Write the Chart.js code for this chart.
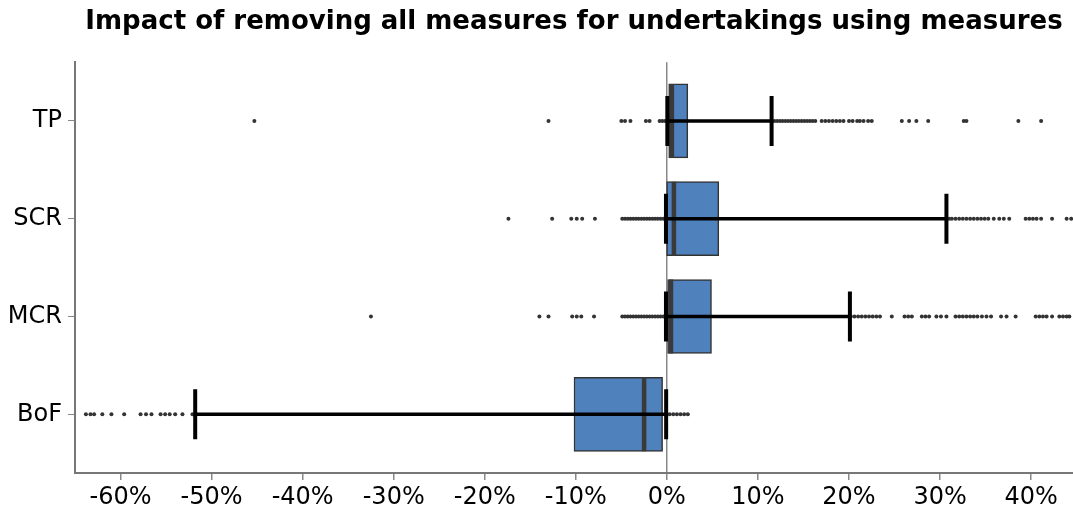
<!DOCTYPE html>
<html>
<head>
  <meta charset="utf-8" />
  <title>Impact of removing all measures</title>
  <script src="https://cdn.jsdelivr.net/npm/chart.js@4.4.1/dist/chart.umd.min.js"></script>
  <style>
    html, body { margin: 0; padding: 0; background: #fff; overflow: hidden; }
    canvas { display: block; }
  </style>
</head>
<body>
  <canvas id="boxChart" width="1073" height="509"></canvas>
  <script>
    // box plot numbers, in %
    var categories = ['TP', 'SCR', 'MCR', 'BoF'];
    var whiskerLow = [0.05, -0.1, -0.1, -51.8];
    var q1 = [0.2, -0.03, 0.0, -10.2];
    var median = [0.55, 0.77, 0.45, -2.5];
    var q3 = [2.3, 5.7, 4.9, -0.47];
    var whiskerHigh = [11.5, 30.7, 20.1, -0.08];

    var outliersTP = [-45.3, -13.0, -5.0, -4.6, -4.0, -2.3, -1.9, -0.8, -0.5, -0.2,
      11.8, 12.1, 12.4, 12.7, 13.0, 13.3, 13.6, 13.9, 14.2, 14.5, 14.8, 15.1, 15.4, 15.7, 16.0, 16.3,
      17.0, 17.4, 17.8, 18.2, 18.6, 19.0, 19.4, 20.0, 20.4, 20.9, 21.2, 21.6, 22.1, 22.5,
      25.8, 26.6, 27.4, 28.7, 32.6, 32.9, 38.6, 41.1];
    var outliersSCR = [-17.4, -12.6, -10.5, -9.9, -9.3, -7.9,
      -4.9, -4.6, -4.3, -4.0, -3.7, -3.4, -3.1, -2.8, -2.5, -2.2, -1.9, -1.6, -1.3, -1.0, -0.7, -0.4,
      31.0, 31.3, 31.7, 32.1, 32.5, 32.9, 33.3, 33.7, 34.1, 34.5, 34.9, 35.3, 35.9,
      36.5, 37.0, 37.6, 39.4, 39.8, 40.2, 40.6, 41.1, 42.3, 43.9, 44.4];
    var outliersMCR = [-32.5, -14.0, -13.0, -10.4, -9.9, -9.4, -8.0,
      -4.9, -4.6, -4.3, -4.0, -3.7, -3.4, -3.1, -2.8, -2.5, -2.2, -1.9, -1.6, -1.3, -1.0, -0.7, -0.4,
      20.2, 20.6, 21.0, 21.4, 21.8, 22.2, 22.6, 23.0, 23.4, 24.7, 26.1, 26.5, 26.9, 28.0, 28.4, 28.8,
      29.6, 30.1, 30.7, 31.7, 32.1, 32.5, 32.9, 33.3, 33.7, 34.1, 34.6, 35.1, 35.6, 36.7, 37.3, 38.3,
      40.5, 40.9, 41.3, 41.7, 42.3, 43.1, 43.5, 43.9, 44.2];
    var outliersBoF = [-63.8, -63.3, -62.9, -62.0, -61.0, -59.6, -57.8, -57.2, -56.6,
      -55.6, -55.1, -54.6, -54.0, -53.2, -52.1,
      0.3, 0.7, 1.1, 1.5, 1.9, 2.3];
    var outliers = [outliersTP, outliersSCR, outliersMCR, outliersBoF];

    var xTicks = [-60, -50, -40, -30, -20, -10, 0, 10, 20, 30, 40];

    // TP on top, BoF at the bottom
    function rowOf(i) { return categories.length - i; }

    var boxData = [], medianData = [], capData = [], outlierData = [], whiskerSets = [];
    categories.forEach(function(name, i) {
      var y = rowOf(i);
      boxData.push({ x: [q1[i], q3[i]], y: y });
      medianData.push({ x: median[i], y: y });
      capData.push({ x: whiskerLow[i], y: y });
      capData.push({ x: whiskerHigh[i], y: y });
      outliers[i].forEach(function(v) { outlierData.push({ x: v, y: y }); });
      whiskerSets.push({
        type: 'line',
        label: name + ' whisker',
        data: [{ x: whiskerLow[i], y: y }, { x: whiskerHigh[i], y: y }],
        borderColor: '#000',
        borderWidth: 3.5,
        pointRadius: 0,
        showLine: true,
        order: 1
      });
    });

    var datasets = [{
      type: 'scatter',
      label: 'caps',
      data: capData,
      pointStyle: 'line',
      rotation: 90,
      pointRadius: 25,
      borderWidth: 4,
      borderColor: '#000',
      order: 0
    }].concat(whiskerSets).concat([{
      type: 'scatter',
      label: 'median',
      data: medianData,
      pointStyle: 'line',
      rotation: 90,
      pointRadius: 37,
      borderWidth: 4.5,
      borderColor: '#3a3a3a',
      order: 2
    }, {
      type: 'bar',
      label: 'box',
      indexAxis: 'y',
      data: boxData,
      backgroundColor: '#4f81bd',
      borderColor: '#333',
      borderWidth: 1.5,
      borderSkipped: false,
      barThickness: 74,
      order: 3
    }, {
      type: 'scatter',
      label: 'outliers',
      data: outlierData,
      pointRadius: 2,
      backgroundColor: '#333',
      borderWidth: 0,
      order: 4
    }]);

    var ctx = document.getElementById('boxChart').getContext('2d');
    new Chart(ctx, {
      type: 'scatter',
      data: { datasets: datasets },
      options: {
        responsive: false,
        animation: false,
        devicePixelRatio: 1,
        layout: { padding: 0, autoPadding: false },
        plugins: {
          legend: { display: false },
          tooltip: { enabled: false },
          title: {
            display: true,
            text: 'Impact of removing all measures for undertakings using measures',
            fullSize: false,
            color: '#000',
            font: { family: 'DejaVu Sans', size: 26, weight: 'bold' },
            padding: { top: 7, bottom: 24 }
          }
        },
        scales: {
          x: {
            type: 'linear',
            min: -65,
            max: 44.6,
            offset: false,
            afterBuildTicks: function(scale) {
              scale.ticks = xTicks.map(function(v) { return { value: v }; });
            },
            afterFit: function(scale) {
              scale.height = 36;
              scale.paddingLeft = 0;
              scale.paddingRight = 0;
            },
            ticks: {
              color: '#000',
              padding: 3,
              font: { family: 'DejaVu Sans', size: 24 },
              callback: function(v) { return v + '%'; }
            },
            grid: {
              offset: false,
              color: function(c) { return c.tick && c.tick.value === 0 ? '#888' : 'rgba(0,0,0,0)'; },
              lineWidth: 1.5,
              tickColor: '#888',
              tickLength: 7
            },
            border: { color: '#777', width: 2 }
          },
          y: {
            type: 'linear',
            min: 0.4,
            max: 4.6,
            offset: false,
            afterBuildTicks: function(scale) {
              scale.ticks = categories.map(function(n, i) { return { value: rowOf(i) }; });
            },
            afterFit: function(scale) {
              scale.width = 75;
              scale.paddingTop = 0;
              scale.paddingBottom = 0;
            },
            ticks: {
              color: '#000',
              padding: 6,
              font: { family: 'DejaVu Sans', size: 24 },
              callback: function(v) { return categories[categories.length - v]; }
            },
            grid: {
              offset: false,
              color: 'rgba(0,0,0,0)',
              tickColor: '#888',
              tickLength: 7
            },
            border: { color: '#777', width: 2 }
          }
        }
      }
    });
  </script>
</body>
</html>
